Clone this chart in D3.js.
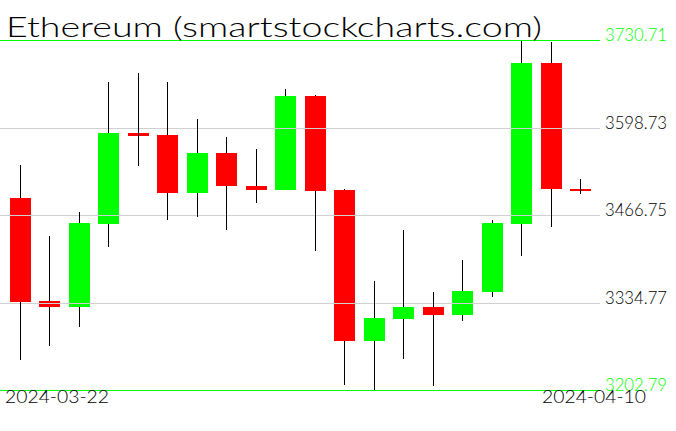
<!DOCTYPE html>
<html>
<head>
<meta charset="utf-8">
<script src="https://cdn.jsdelivr.net/npm/d3@7"></script>
<style>
html,body{margin:0;padding:0;background:#fff;}
svg{display:block;}
</style>
</head>
<body>
<svg id="chart" width="676" height="431"></svg>
<script>
const title = "Ethereum (smartstockcharts.com)";
const dates = ["2024-03-22","2024-03-23","2024-03-24","2024-03-25","2024-03-26","2024-03-27","2024-03-28","2024-03-29","2024-03-30","2024-03-31",
               "2024-04-01","2024-04-02","2024-04-03","2024-04-04","2024-04-05","2024-04-06","2024-04-07","2024-04-08","2024-04-09","2024-04-10"];
const open  = [3493.2,3337.4,3328.3,3454.3,3591.5,3588.5,3500.8,3561.3,3511.4,3505.3,3646.0,3505.3,3277.3,3310.6,3328.3,3316.7,3351.5,3454.3,3695.9,3505.8];
const high  = [3543.1,3435.7,3472.0,3667.2,3680.8,3667.2,3612.7,3585.5,3567.3,3656.6,3647.5,3506.8,3367.7,3444.8,3351.0,3399.4,3459.5,3730.0,3728.7,3521.5];
const low   = [3248.1,3269.8,3298.5,3419.5,3541.6,3459.9,3464.9,3444.8,3484.6,3504.2,3413.5,3210.8,3203.2,3250.1,3209.3,3306.7,3343.9,3405.9,3449.8,3498.2];
const close = [3335.9,3328.3,3455.4,3591.5,3587.0,3500.8,3561.3,3510.3,3505.3,3646.0,3503.8,3277.3,3311.7,3328.3,3316.7,3352.5,3455.4,3695.9,3505.8,3503.5];
const priceTicks = [3202.79, 3334.77, 3466.75, 3598.73, 3730.71];
const dateLabels = ["2024-03-22", "2024-04-10"];

const data = dates.map((d,i)=>({date:d, o:open[i], h:high[i], l:low[i], c:close[i]}));

const svg = d3.select("#chart");
const x = d3.scaleBand().domain(dates).range([5.5, 595.5]).paddingInner(0.29).paddingOuter(0.145);
const y = d3.scaleLinear().domain([priceTicks[0], priceTicks[priceTicks.length-1]]).range([390.3, 40.3]);

const font = "Lato, Roboto, 'DejaVu Sans', sans-serif";
const RED = "#ff0000", GREEN = "#00ff00";

// bodies
const gBodies = svg.append("g");
data.forEach(d=>{
  const top = Math.round(y(Math.max(d.o,d.c)));
  const bot = Math.round(y(Math.min(d.o,d.c)));
  const h = Math.max(2, bot-top);
  gBodies.append("rect")
    .attr("x", Math.round(x(d.date)))
    .attr("width", Math.round(x.bandwidth()))
    .attr("y", top)
    .attr("height", h)
    .attr("fill", d.c >= d.o ? GREEN : RED);
});

// gridlines (over bodies)
const gGrid = svg.append("g");
priceTicks.slice(1, -1).forEach(v=>{
  const yy = Math.round(y(v)) + 0.5;
  gGrid.append("line").attr("x1",0).attr("x2",600).attr("y1",yy).attr("y2",yy)
    .attr("stroke","#d0d0d0").attr("stroke-width",1);
});

// wicks
const gWick = svg.append("g");
data.forEach(d=>{
  const cx = Math.floor(x(d.date) + x.bandwidth()/2) + 0.5;
  const top = Math.round(y(Math.max(d.o,d.c)));
  const bot = Math.round(y(Math.min(d.o,d.c)));
  const yh = Math.round(y(d.h)), yl = Math.round(y(d.l));
  if (bot - top < 4) {
    gWick.append("line").attr("x1",cx).attr("x2",cx).attr("y1",yh).attr("y2",yl)
      .attr("stroke","#000").attr("stroke-width",1);
  } else {
    gWick.append("line").attr("x1",cx).attr("x2",cx).attr("y1",yh).attr("y2",top)
      .attr("stroke","#000").attr("stroke-width",1);
    gWick.append("line").attr("x1",cx).attr("x2",cx).attr("y1",bot).attr("y2",yl)
      .attr("stroke","#000").attr("stroke-width",1);
  }
});

// top & bottom green lines
[priceTicks[0], priceTicks[priceTicks.length-1]].forEach(v=>{
  const yy = Math.round(y(v)) + 0.5;
  svg.append("line").attr("x1",0).attr("x2",600).attr("y1",yy).attr("y2",yy)
    .attr("stroke",GREEN).attr("stroke-width",1);
});

// price labels
priceTicks.forEach((v,i)=>{
  const isEdge = (i===0 || i===priceTicks.length-1);
  svg.append("text")
    .attr("x", 605).attr("y", Math.round(y(v)) + 1)
    .attr("font-family", font).attr("font-weight", 300).attr("font-size", 17)
    .attr("textLength", 62).attr("lengthAdjust","spacingAndGlyphs")
    .attr("fill", isEdge ? GREEN : "#000")
    .text(v.toFixed(2));
});

// date labels
svg.append("text").attr("x",5).attr("y",403)
  .attr("font-family", font).attr("font-weight",300).attr("font-size",17)
  .attr("textLength",104).attr("lengthAdjust","spacingAndGlyphs")
  .attr("fill","#000").text(dateLabels[0]);
svg.append("text").attr("x",542).attr("y",403)
  .attr("font-family", font).attr("font-weight",300).attr("font-size",17)
  .attr("textLength",104).attr("lengthAdjust","spacingAndGlyphs")
  .attr("fill","#000").text(dateLabels[1]);

// title
svg.append("text").attr("x",6).attr("y",37)
  .attr("font-family", font).attr("font-weight",300).attr("font-size",27)
  .attr("textLength",536).attr("lengthAdjust","spacingAndGlyphs")
  .attr("fill","#000").text(title);
</script>
</body>
</html>
